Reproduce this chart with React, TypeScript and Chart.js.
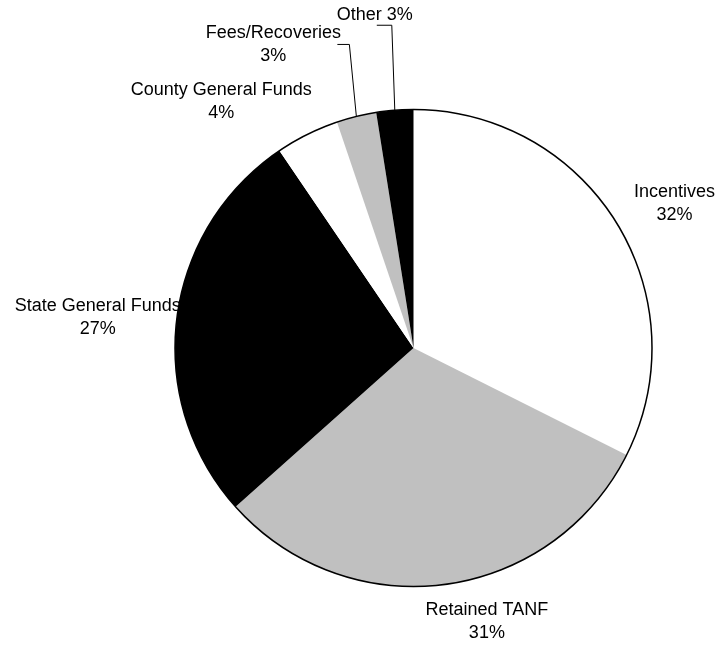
import React, { useEffect, useRef } from "react";
import { Chart, ArcElement, PieController } from "chart.js";

Chart.register(ArcElement, PieController);

const categories = [
  "Incentives",
  "Retained TANF",
  "State General Funds",
  "County General Funds",
  "Fees/Recoveries",
  "Other",
];
const shares = [32.4, 31.0, 27.1, 4.3, 2.7, 2.5];
const sliceColors = ["#FFFFFF", "#C0C0C0", "#000000", "#FFFFFF", "#C0C0C0", "#000000"];

type LabelLayout = {
  dx: number;
  dy: number;
  oneLine?: boolean;
  leader?: { dx: number; dy: number; len: number };
};

const labelLayout: LabelLayout[] = [
  { dx: 58, dy: -19 },
  { dx: 42, dy: 37 },
  { dx: -79, dy: -1 },
  { dx: -86, dy: -33 },
  { dx: -83, dy: -72, leader: { dx: -7, dy: -72, len: 12 } },
  { dx: -20, dy: -95, oneLine: true, leader: { dx: -3, dy: -85, len: 15 } },
];

const FONT = '18px "Liberation Sans", Arial, Helvetica, sans-serif';
const LINE_H = 23;

const sliceLabelPlugin = {
  id: "sliceLabels",
  afterDatasetsDraw(chart: any, _args: any, opts: any) {
    const ctx: CanvasRenderingContext2D = chart.ctx;
    const meta = chart.getDatasetMeta(0);
    const values: number[] = chart.data.datasets[0].data as number[];
    const names: string[] = chart.data.labels as string[];
    const total = values.reduce((a, b) => a + b, 0);
    const layout: LabelLayout[] = opts.layout || [];
    if (!meta.data.length) return;

    ctx.save();
    // outer circle outline
    const p0 = meta.data[0].getProps(["x", "y", "outerRadius"], true);
    ctx.beginPath();
    ctx.arc(p0.x, p0.y, p0.outerRadius, 0, Math.PI * 2);
    ctx.lineWidth = 1.5;
    ctx.strokeStyle = "#000";
    ctx.stroke();

    ctx.font = FONT;
    ctx.fillStyle = "#000";
    ctx.textAlign = "center";
    ctx.textBaseline = "middle";

    meta.data.forEach((arc: any, i: number) => {
      const p = arc.getProps(["x", "y", "startAngle", "endAngle", "outerRadius"], true);
      const mid = (p.startAngle + p.endAngle) / 2;
      const ex = p.x + Math.cos(mid) * p.outerRadius;
      const ey = p.y + Math.sin(mid) * p.outerRadius;
      const lay = layout[i] || { dx: 0, dy: 0 };
      const pct = Math.round(Math.round((values[i] / total) * 1000) / 10) + "%";
      const lines = lay.oneLine ? [names[i] + " " + pct] : [names[i], pct];
      const lx = ex + lay.dx;
      const ly = ey + lay.dy;
      lines.forEach((t, k) => {
        ctx.fillText(t, lx, ly + (k - (lines.length - 1) / 2) * LINE_H);
      });
      if (lay.leader) {
        ctx.beginPath();
        ctx.lineWidth = 1;
        ctx.strokeStyle = "#000";
        ctx.moveTo(ex, ey);
        ctx.lineTo(ex + lay.leader.dx, ey + lay.leader.dy);
        ctx.lineTo(ex + lay.leader.dx - lay.leader.len, ey + lay.leader.dy);
        ctx.stroke();
      }
    });
    ctx.restore();
  },
};

export default function App() {
  const canvasRef = useRef<HTMLCanvasElement | null>(null);

  useEffect(() => {
    document.body.style.margin = "0";
    const canvas = canvasRef.current;
    if (!canvas) return;
    const chart = new Chart(canvas, {
      type: "pie",
      data: {
        labels: categories,
        datasets: [
          {
            data: shares,
            backgroundColor: sliceColors,
            borderWidth: 0,
          },
        ],
      },
      options: {
        responsive: false,
        animation: false,
        devicePixelRatio: 1,
        layout: { padding: { left: 175, right: 68, top: 109, bottom: 60 } },
        plugins: {
          sliceLabels: { layout: labelLayout },
        } as any,
      },
      plugins: [sliceLabelPlugin],
    });
    return () => chart.destroy();
  }, []);

  return (
    <div style={{ width: 720, height: 647, background: "#fff" }}>
      <canvas ref={canvasRef} width={720} height={647} style={{ display: "block" }} />
    </div>
  );
}
